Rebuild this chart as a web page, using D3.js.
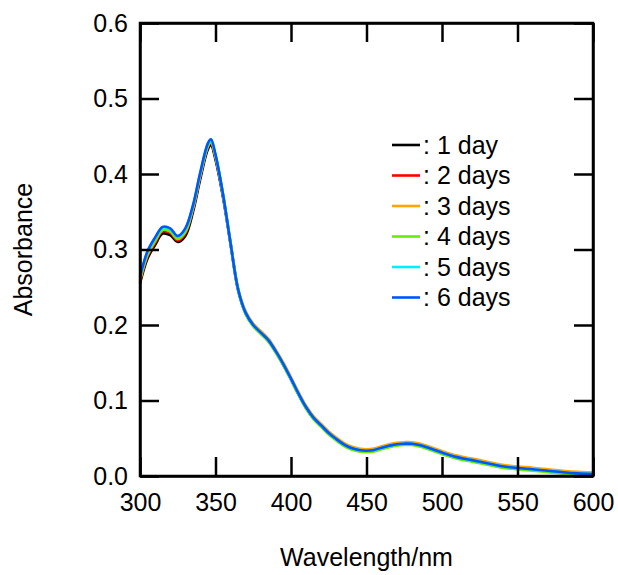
<!DOCTYPE html>
<html>
<head>
<meta charset="utf-8">
<script src="https://cdn.jsdelivr.net/npm/d3@7"></script>
<style>
  html, body { margin: 0; padding: 0; background: #fff; }
  svg { display: block; }
  text { font-family: "Liberation Sans", Arial, sans-serif; fill: #000; }
</style>
</head>
<body>
<svg id="chart" width="618" height="575"></svg>
<script>
const wavelengths = [300,305,310,315,320,325,330,335,340,345,347,350,355,360,365,370,375,380,385,390,395,400,405,410,415,420,425,430,435,440,445,450,455,460,465,470,475,480,485,490,495,500,510,520,530,540,550,560,570,580,590,600];

const day1 = [0.255,0.288,0.306,0.321,0.319,0.310,0.318,0.349,0.394,0.433,0.438,0.419,0.369,0.307,0.246,0.215,0.199,0.189,0.179,0.164,0.147,0.128,0.108,0.090,0.076,0.066,0.056,0.048,0.041,0.036,0.0335,0.0325,0.0335,0.0365,0.039,0.041,0.0420,0.0420,0.040,0.037,0.0335,0.030,0.024,0.020,0.016,0.012,0.0098,0.008,0.006,0.004,0.003,0.002];
const day2 = [0.257,0.291,0.309,0.324,0.322,0.312,0.321,0.352,0.397,0.436,0.441,0.422,0.371,0.308,0.247,0.216,0.200,0.190,0.180,0.165,0.148,0.129,0.109,0.091,0.077,0.067,0.057,0.049,0.042,0.037,0.0345,0.0335,0.0345,0.0375,0.040,0.042,0.0428,0.0428,0.041,0.038,0.0345,0.031,0.025,0.021,0.017,0.013,0.0106,0.009,0.007,0.005,0.0035,0.0026];
const day3 = [0.259,0.293,0.311,0.326,0.324,0.314,0.323,0.354,0.399,0.437,0.442,0.423,0.373,0.310,0.249,0.218,0.202,0.192,0.182,0.167,0.150,0.131,0.111,0.093,0.079,0.069,0.059,0.051,0.044,0.039,0.0365,0.0355,0.0365,0.0395,0.042,0.044,0.0448,0.0448,0.043,0.040,0.0365,0.033,0.027,0.023,0.019,0.015,0.0126,0.011,0.009,0.007,0.0055,0.0046];
const day4 = [0.261,0.294,0.312,0.326,0.324,0.314,0.324,0.355,0.400,0.438,0.443,0.424,0.372,0.306,0.245,0.214,0.198,0.188,0.178,0.163,0.146,0.127,0.107,0.089,0.075,0.065,0.055,0.047,0.040,0.035,0.0325,0.0315,0.0325,0.0355,0.038,0.040,0.0410,0.0410,0.039,0.036,0.0325,0.029,0.023,0.019,0.015,0.011,0.0088,0.007,0.005,0.003,0.0018,0.0008];
const day5 = [0.263,0.297,0.315,0.329,0.327,0.317,0.327,0.357,0.402,0.440,0.445,0.425,0.373,0.308,0.247,0.216,0.200,0.190,0.180,0.165,0.148,0.129,0.109,0.091,0.077,0.067,0.057,0.049,0.042,0.037,0.0345,0.0335,0.0345,0.0375,0.040,0.042,0.0428,0.0428,0.041,0.038,0.0345,0.031,0.025,0.021,0.017,0.013,0.0106,0.009,0.007,0.005,0.0035,0.0026];
const day6 = [0.264,0.298,0.316,0.330,0.328,0.318,0.328,0.358,0.403,0.441,0.446,0.426,0.373,0.308,0.247,0.216,0.200,0.190,0.180,0.165,0.148,0.129,0.109,0.091,0.077,0.067,0.057,0.049,0.042,0.037,0.0345,0.0335,0.0345,0.0375,0.040,0.042,0.0428,0.0428,0.041,0.038,0.0345,0.031,0.025,0.021,0.017,0.013,0.0106,0.009,0.007,0.005,0.0035,0.0026];

const seriesNames = [": 1 day", ": 2 days", ": 3 days", ": 4 days", ": 5 days", ": 6 days"];
const seriesColors = ["#000000", "#ff0000", "#ffa500", "#66ee00", "#00f0ff", "#0055ff"];
const seriesValues = [day1, day2, day3, day4, day5, day6];

const xTicks = [300, 350, 400, 450, 500, 550, 600];
const yTicks = [0.0, 0.1, 0.2, 0.3, 0.4, 0.5, 0.6];
const xTitle = "Wavelength/nm";
const yTitle = "Absorbance";

const svg = d3.select("#chart");
const pLeft = 140, pRight = 593, pTop = 23, pBottom = 476;
const fontSize = 25;

const x = d3.scaleLinear().domain([300, 600]).range([pLeft, pRight]);
const y = d3.scaleLinear().domain([0, 0.6]).range([pBottom, pTop]);

const tickLen = 19;
const axisW = 2.5;

// curves
const line = d3.line()
  .x(d => x(d[0]))
  .y(d => y(d[1]))
  .curve(d3.curveCatmullRom.alpha(0.5));

const gLines = svg.append("g");
seriesValues.forEach((vals, i) => {
  gLines.append("path")
    .datum(wavelengths.map((w, j) => [w, vals[j]]))
    .attr("fill", "none")
    .attr("stroke", seriesColors[i])
    .attr("stroke-width", 2.6)
    .attr("stroke-linejoin", "round")
    .attr("d", line);
});

// axes (inward ticks on all sides)
function styleAxis(g) {
  g.select(".domain").attr("stroke", "#000").attr("stroke-width", axisW);
  g.selectAll(".tick line").attr("stroke", "#000").attr("stroke-width", axisW);
  g.selectAll(".tick text").style("font-size", fontSize + "px").style("font-family", '"Liberation Sans", Arial, sans-serif').attr("fill", "#000");
}

const xAxisB = d3.axisBottom(x).tickValues(xTicks).tickFormat(d3.format("d"))
  .tickSizeInner(-tickLen).tickSizeOuter(0).tickPadding(17);
svg.append("g").attr("transform", `translate(0,${pBottom})`).call(xAxisB).call(styleAxis);

const xAxisT = d3.axisTop(x).tickValues(xTicks).tickFormat("")
  .tickSizeInner(-tickLen).tickSizeOuter(0);
svg.append("g").attr("transform", `translate(0,${pTop})`).call(xAxisT).call(styleAxis);

const yAxisL = d3.axisLeft(y).tickValues(yTicks).tickFormat(d3.format(".1f"))
  .tickSizeInner(-tickLen).tickSizeOuter(0).tickPadding(12);
svg.append("g").attr("transform", `translate(${pLeft},0)`).call(yAxisL).call(styleAxis);

const yAxisR = d3.axisRight(y).tickValues(yTicks).tickFormat("")
  .tickSizeInner(-tickLen).tickSizeOuter(0);
svg.append("g").attr("transform", `translate(${pRight},0)`).call(yAxisR).call(styleAxis);

// close frame corners
svg.append("rect")
  .attr("x", pLeft).attr("y", pTop)
  .attr("width", pRight - pLeft).attr("height", pBottom - pTop)
  .attr("fill", "none").attr("stroke", "#000").attr("stroke-width", axisW)
  .attr("stroke-linecap", "square");

// titles
svg.append("text")
  .attr("x", (pLeft + pRight) / 2).attr("y", 566)
  .attr("text-anchor", "middle")
  .style("font-size", fontSize + "px")
  .text(xTitle);

svg.append("text")
  .attr("transform", `translate(32,${(pTop + pBottom) / 2}) rotate(-90)`)
  .attr("text-anchor", "middle")
  .style("font-size", fontSize + "px")
  .text(yTitle);

// legend
const legend = svg.append("g");
seriesNames.forEach((name, i) => {
  const ly = 145 + i * 30.5;
  legend.append("line")
    .attr("x1", 392).attr("x2", 420)
    .attr("y1", ly).attr("y2", ly)
    .attr("stroke", seriesColors[i]).attr("stroke-width", 2.6);
  legend.append("text")
    .attr("x", 423).attr("y", ly + 8.5)
    .style("font-size", fontSize + "px")
    .text(name);
});
</script>
</body>
</html>
